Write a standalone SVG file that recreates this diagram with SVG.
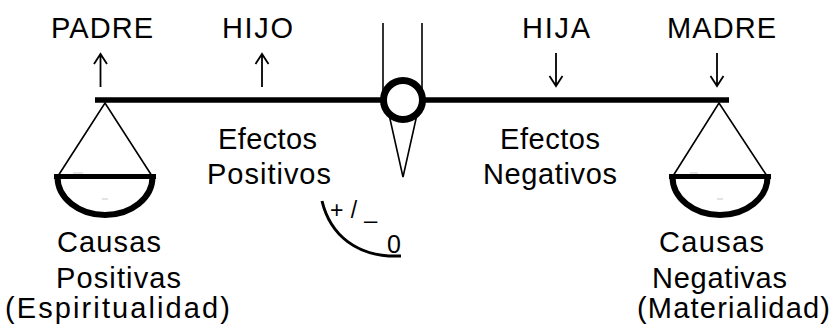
<svg xmlns="http://www.w3.org/2000/svg" width="831" height="325" viewBox="0 0 831 325">
<style>
text{font-family:"Liberation Sans",Arial,sans-serif;font-size:29px;fill:#000}
.thin{fill:none;stroke:#000;stroke-width:1.6}
.arr{fill:none;stroke:#000;stroke-width:1.8;stroke-linejoin:miter}
.thick{fill:none;stroke:#000}
.faint{stroke:#d0d0d0;stroke-width:1.2}
</style>
<rect width="831" height="325" fill="#fff"/>
<g id="labels-top">
<text x="51" y="38" textLength="102" lengthAdjust="spacing">PADRE</text>
<text x="222" y="38" textLength="71" lengthAdjust="spacing">HIJO</text>
<text x="522" y="38" textLength="68" lengthAdjust="spacing">HIJA</text>
<text x="667" y="38" textLength="109" lengthAdjust="spacing">MADRE</text>
</g>
<g id="connectors">
<path class="arr" d="M100.5,87 V54 M94,64 L100.5,54 L107,64"/>
<path class="arr" d="M262,87 V54 M255.5,64 L262,54 L268.5,64"/>
<path class="arr" d="M556,53 V86 M549.5,76 L556,86 L562.5,76"/>
<path class="arr" d="M717,53 V86 M710.5,76 L717,86 L723.5,76"/>
</g>
<g id="pivot">
<line class="thin" x1="383" y1="23" x2="383" y2="92"/>
<line class="thin" x1="422" y1="23" x2="422" y2="92"/>
<path class="thin" d="M388,110 L403,177 L418,110"/>
</g>
<g id="beam">
<line class="thick" x1="95" y1="100" x2="729" y2="100" stroke-width="5.5"/>
<circle cx="403" cy="100" r="19.5" fill="#fff" stroke="#000" stroke-width="7"/>
</g>
<g id="pan-left">
<path class="thin" d="M58,176 L105,103 L152,176"/>
<path class="thick" d="M57.5,177 A47.5,38 0 0 0 152.5,177" stroke-width="6"/>
<line class="thick" x1="54" y1="176.5" x2="156" y2="176.5" stroke-width="5"/>
<line class="faint" x1="73" y1="173" x2="83" y2="173"/>
<line class="faint" x1="102" y1="199" x2="108" y2="199"/>
</g>
<g id="pan-right">
<path class="thin" d="M673,176 L719,103 L767,176"/>
<path class="thick" d="M672.5,177 A47.5,38 0 0 0 767.5,177" stroke-width="6"/>
<line class="thick" x1="669" y1="176.5" x2="771" y2="176.5" stroke-width="5"/>
<line class="faint" x1="690" y1="173" x2="698" y2="173"/>
<line class="faint" x1="717" y1="199" x2="723" y2="199"/>
</g>
<g id="effects">
<text x="218" y="149" textLength="99" lengthAdjust="spacing">Efectos</text>
<text x="207" y="184" textLength="124" lengthAdjust="spacing">Positivos</text>
<text x="500" y="149" textLength="100" lengthAdjust="spacing">Efectos</text>
<text x="483" y="184" textLength="134" lengthAdjust="spacing">Negativos</text>
</g>
<g id="gauge">
<path class="thick" d="M322,201 C330,234 356,258 401,256" stroke-width="3"/>
<text x="330" y="218" style="font-size:23px" textLength="47" lengthAdjust="spacing">+/_</text>
<text x="387" y="253" style="font-size:25px">0</text>
</g>
<g id="causes-left">
<text x="57" y="252" textLength="104" lengthAdjust="spacing">Causas</text>
<text x="56" y="288" textLength="125" lengthAdjust="spacing">Positivas</text>
<text x="5" y="318" textLength="225" lengthAdjust="spacing">(Espiritualidad)</text>
</g>
<g id="causes-right">
<text x="659" y="252" textLength="105" lengthAdjust="spacing">Causas</text>
<text x="652" y="288" textLength="135" lengthAdjust="spacing">Negativas</text>
<text x="637" y="318" textLength="193" lengthAdjust="spacing">(Materialidad)</text>
</g>
</svg>
